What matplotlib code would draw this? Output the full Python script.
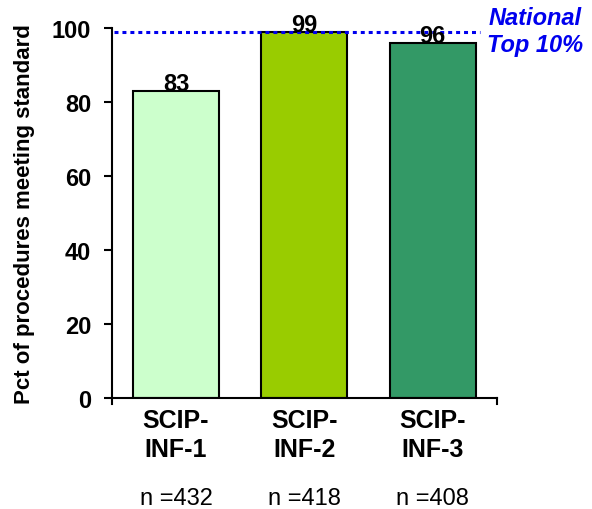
import matplotlib.pyplot as plt

plt.rcParams['font.family'] = ['Liberation Sans', 'DejaVu Sans']

categories = ["SCIP-\nINF-1", "SCIP-\nINF-2", "SCIP-\nINF-3"]
values = [83, 99, 96]
counts = [432, 418, 408]
national_top10 = 99
colors = ['#CCFFCC', '#99CC00', '#339966']

fig = plt.figure(figsize=(5.92, 5.10), dpi=100)
ax = fig.add_axes([0.189, 0.2176, 0.650, 0.7255])

x = list(range(len(values)))
ax.bar(x, values, width=0.67, color=colors, edgecolor='black', linewidth=1.5, zorder=2)
for xi, v in zip(x, values):
    ax.text(xi, v + 0.3, str(v), ha='center', va='baseline', fontsize=17, fontweight='bold', zorder=4)

# national benchmark line
ax.plot([-0.48, 2.37], [national_top10, national_top10], color='#0000EE',
        linestyle=(0, (1.3, 1.3)), linewidth=2.2, zorder=3, clip_on=False)
ax.text(1.101, 0.992, "National\nTop 10%", transform=ax.transAxes, ha='center', va='center',
        fontsize=17, fontweight='bold', style='italic', color='#0000EE')

ax.set_xlim(-0.5, 2.5)
ax.set_ylim(0, 100)
ax.set_yticks(range(0, 101, 20))
ax.set_yticklabels([str(t) for t in range(0, 101, 20)], fontsize=17, fontweight='bold')
ax.set_xticks(x)
ax.set_xticklabels(categories, fontsize=18, fontweight='bold', linespacing=1.3)
ax.tick_params(axis='x', length=0, pad=7)
ax.tick_params(axis='y', direction='out', length=6, width=1.5, pad=9)
for xb in [-0.5, 2.5]:
    ax.plot([xb, xb], [0, -1.6], color='black', linewidth=1.5, clip_on=False)

for xi, n in zip(x, counts):
    ax.text(xi, -27, f"n ={n}", ha='center', va='center', fontsize=17)

ax.spines['top'].set_visible(False)
ax.spines['right'].set_visible(False)
ax.spines['left'].set_linewidth(1.5)
ax.spines['bottom'].set_linewidth(1.5)

ax.set_ylabel("Pct of procedures meeting standard", fontsize=16, fontweight='bold', labelpad=12)

fig.savefig('out.png', dpi=100)
